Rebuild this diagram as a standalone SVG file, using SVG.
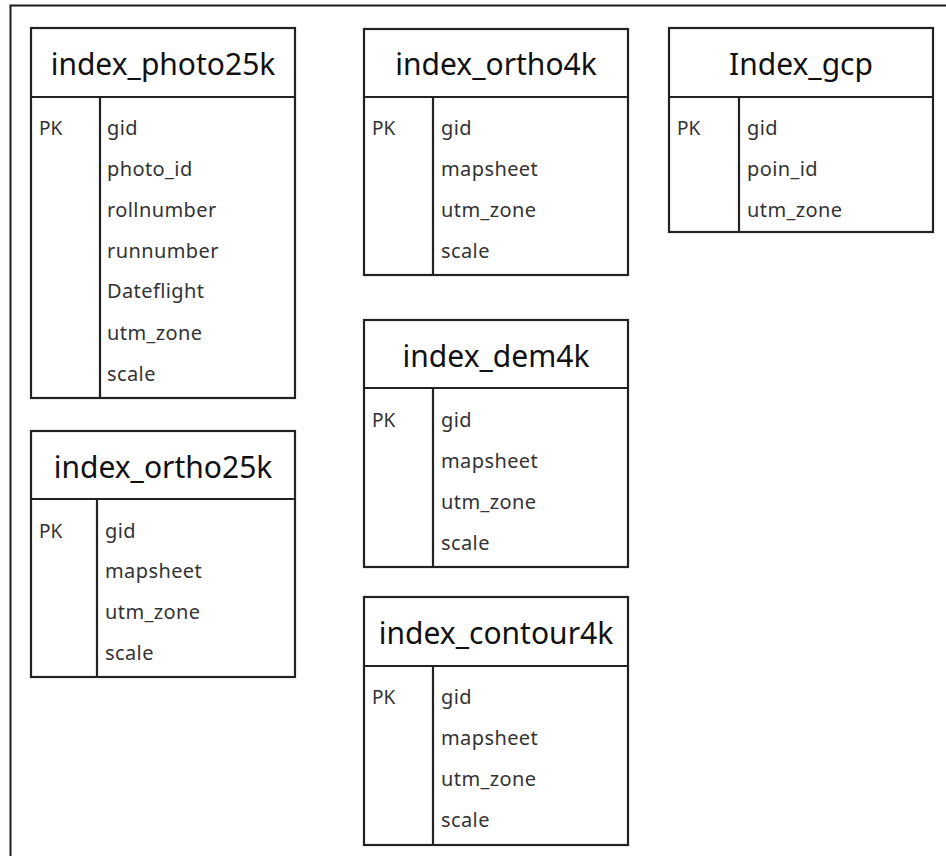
<svg xmlns="http://www.w3.org/2000/svg" width="946" height="856" viewBox="0 0 946 856">
  <style>
    .frame { fill: none; stroke: #1a1a1a; stroke-width: 2; }
    .box { fill: #ffffff; stroke: #222222; stroke-width: 2.2; }
    .rule { stroke: #222222; stroke-width: 2.2; }
    .title { font-family: "Noto Sans", "Open Sans", sans-serif; font-size: 30px; fill: #111111; text-anchor: middle; }
    .key { font-family: "Noto Sans", "Open Sans", sans-serif; font-size: 19px; fill: #333333; }
    .field { font-family: "Noto Sans", "Open Sans", sans-serif; font-size: 20px; letter-spacing: 0.4px; fill: #333333; }
  </style>
  <rect x="0" y="0" width="946" height="856" fill="#ffffff"/>
  <!-- page frame, open on the right and bottom -->
  <path class="frame" d="M946 5.5 H10.5 V856"/>

  <g id="index_photo25k">
    <rect class="box" x="31" y="28" width="264" height="370"/>
    <line class="rule" x1="31" y1="97" x2="295" y2="97"/>
    <line class="rule" x1="100" y1="97" x2="100" y2="398"/>
    <text class="title" x="163" y="75">index_photo25k</text>
    <text class="key" x="39" y="135">PK</text>
    <text class="field" x="107" y="135">gid</text>
    <text class="field" x="107" y="176">photo_id</text>
    <text class="field" x="107" y="217">rollnumber</text>
    <text class="field" x="107" y="258">runnumber</text>
    <text class="field" x="107" y="298">Dateflight</text>
    <text class="field" x="107" y="340">utm_zone</text>
    <text class="field" x="107" y="381">scale</text>
  </g>

  <g id="index_ortho25k">
    <rect class="box" x="31" y="431" width="264" height="246"/>
    <line class="rule" x1="31" y1="499" x2="295" y2="499"/>
    <line class="rule" x1="97" y1="499" x2="97" y2="677"/>
    <text class="title" x="163" y="478">index_ortho25k</text>
    <text class="key" x="39" y="538">PK</text>
    <text class="field" x="105" y="538">gid</text>
    <text class="field" x="105" y="578">mapsheet</text>
    <text class="field" x="105" y="619">utm_zone</text>
    <text class="field" x="105" y="660">scale</text>
  </g>

  <g id="index_ortho4k">
    <rect class="box" x="364" y="29" width="264" height="246"/>
    <line class="rule" x1="364" y1="97" x2="628" y2="97"/>
    <line class="rule" x1="433" y1="97" x2="433" y2="275"/>
    <text class="title" x="496" y="75">index_ortho4k</text>
    <text class="key" x="372" y="135">PK</text>
    <text class="field" x="441" y="135">gid</text>
    <text class="field" x="441" y="176">mapsheet</text>
    <text class="field" x="441" y="217">utm_zone</text>
    <text class="field" x="441" y="258">scale</text>
  </g>

  <g id="index_dem4k">
    <rect class="box" x="364" y="320" width="264" height="247"/>
    <line class="rule" x1="364" y1="388" x2="628" y2="388"/>
    <line class="rule" x1="433" y1="388" x2="433" y2="567"/>
    <text class="title" x="496" y="367">index_dem4k</text>
    <text class="key" x="372" y="427">PK</text>
    <text class="field" x="441" y="427">gid</text>
    <text class="field" x="441" y="468">mapsheet</text>
    <text class="field" x="441" y="509">utm_zone</text>
    <text class="field" x="441" y="550">scale</text>
  </g>

  <g id="index_contour4k">
    <rect class="box" x="364" y="597" width="264" height="248"/>
    <line class="rule" x1="364" y1="666" x2="628" y2="666"/>
    <line class="rule" x1="433" y1="666" x2="433" y2="845"/>
    <text class="title" x="496" y="644">index_contour4k</text>
    <text class="key" x="372" y="704">PK</text>
    <text class="field" x="441" y="704">gid</text>
    <text class="field" x="441" y="745">mapsheet</text>
    <text class="field" x="441" y="786">utm_zone</text>
    <text class="field" x="441" y="827">scale</text>
  </g>

  <g id="index_gcp">
    <rect class="box" x="669" y="28" width="264" height="204"/>
    <line class="rule" x1="669" y1="97" x2="933" y2="97"/>
    <line class="rule" x1="739" y1="97" x2="739" y2="232"/>
    <text class="title" x="801" y="75">Index_gcp</text>
    <text class="key" x="677" y="135">PK</text>
    <text class="field" x="747" y="135">gid</text>
    <text class="field" x="747" y="176">poin_id</text>
    <text class="field" x="747" y="217">utm_zone</text>
  </g>

  <!-- no relationships are drawn between these tables -->
  <g id="connectors"/>
</svg>
